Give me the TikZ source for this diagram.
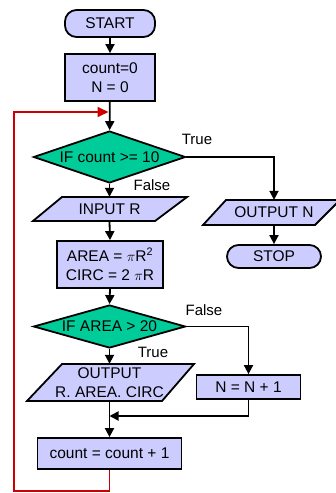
\documentclass[tikz,border=0pt]{standalone}
\usepackage{fontspec}
\setmainfont{Liberation Sans}
\usetikzlibrary{shapes.geometric,arrows.meta,calc}
\definecolor{boxfill}{HTML}{CCCCFF}
\definecolor{decfill}{HTML}{00CC99}
\definecolor{loopred}{HTML}{CC0000}
\newcommand\flowfont{\fontsize{15.5}{19.5}\selectfont}
\newcommand\lblfont{\fontsize{15}{18}\selectfont}
\tikzset{
  proc/.style={draw=black, line width=1.8pt, fill=boxfill, inner sep=0pt, align=center, font=\flowfont},
  term/.style={proc, rounded corners=11.5pt},
  dec/.style={draw=black, line width=1.8pt, fill=decfill, shape=diamond, aspect=3, inner sep=0pt, align=center, font=\flowfont},
  paratext/.style={inner sep=0pt, align=center, font=\flowfont},
  parashape/.style={draw=black, line width=1.8pt, fill=boxfill},
  lbl/.style={inner sep=0pt, font=\lblfont},
  conn/.style={draw=black, line width=1.8pt, -{Triangle[length=9pt,width=9pt]}},
  plainconn/.style={draw=black, line width=1.8pt},
  loop/.style={draw=loopred, line width=1.8pt, -{Triangle[length=11pt,width=10pt]}}
}
\begin{document}
\begin{tikzpicture}[x=1pt,y=-1pt]
\useasboundingbox (0,0) rectangle (336,493);
\clip (0,0) rectangle (336,493);
\fill[white] (0,0) rectangle (336,493);

% terminals and processes
\node[term, minimum width=90, minimum height=27] (start) at (110,23.5) {START};
\node[proc, minimum width=90, minimum height=47] (init) at (110,77.5) {count=0\\N = 0};
\node[dec, minimum width=152, minimum height=52] (d1) at (109.5,157) {IF count >= 10};

% INPUT R parallelogram
\path[parashape] (33,221) -- (62,197) -- (187,197) -- (155,221) -- cycle;
\node[paratext, minimum width=100, minimum height=24] (inr) at (109.5,209) {INPUT R};

\node[proc, minimum width=106, minimum height=47] (area) at (110,264.5) {AREA = $\pi$R\textsuperscript{2}\\CIRC = 2 $\pi$R};
\node[dec, minimum width=152, minimum height=43] (d2) at (109.5,326.5) {IF AREA > 20};

% OUTPUT R parallelogram
\path[parashape] (27,401) -- (62,364) -- (194,364) -- (162,401) -- cycle;
\node[paratext, minimum width=110, minimum height=37] (outr) at (109.5,382.5) {OUTPUT\\R. AREA. CIRC};

\node[proc, minimum width=104, minimum height=24] (nbox) at (248.5,387) {N = N + 1};
\node[proc, minimum width=144, minimum height=31] (cnt) at (109.5,453.5) {count = count + 1};

% OUTPUT N parallelogram
\path[parashape] (203,225) -- (226,200) -- (340,200) -- (315,225) -- cycle;
\node[paratext, minimum width=90, minimum height=25] (outn) at (274,212.5) {OUTPUT N};
\node[term, minimum width=94, minimum height=23] (stop) at (274,256.5) {STOP};

% labels
\node[lbl] (t1) at (197,139) {True};
\node[lbl] (f1) at (152,185) {False};
\node[lbl] (f2) at (204,310) {False};
\node[lbl] (t2) at (153,352) {True};

% connectors
\draw[conn] (start) -- (init);
\draw[conn] (init) -- (d1);
\draw[conn] (d1.east) -| (outn.north);
\draw[conn] (outn.south) -- (stop.north);
\draw[conn] (d1.south) -- (inr.north);
\draw[conn] (inr.south) -- (area.north);
\draw[conn] (area.south) -- (d2.north);
\draw[conn] (d2.east) -| (nbox.north);
\draw[conn] (d2.south) -- (outr.north);
\draw[conn] (outr.south) -- (cnt.north);
\coordinate (join) at (109.5,416);
\draw[conn] (nbox.south) |- (join);

% loop back
\coordinate (rb) at (14,491);
\coordinate (rt) at (14,112);
\coordinate (rend) at (108.5,112);
\draw[loop] (cnt.south) |- (rb) -- (rt) -- (rend);
\end{tikzpicture}
\end{document}
